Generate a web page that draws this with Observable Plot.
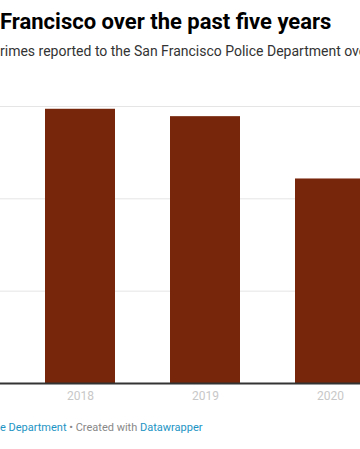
<!DOCTYPE html>
<html>
<head>
<meta charset="utf-8">
<script src="https://cdn.jsdelivr.net/npm/d3@7"></script>
<script src="https://cdn.jsdelivr.net/npm/@observablehq/plot@0.6"></script>
<style>
  html, body { margin: 0; padding: 0; background: #fff; overflow: hidden; }
  body { width: 360px; height: 449px; position: relative; font-family: Roboto, sans-serif; }
  .title { position: absolute; left: 0; top: 7px; font-size: 22px; font-weight: 700; color: #000; white-space: nowrap; line-height: 30px; }
  .subtitle { position: absolute; left: 0; top: 41px; font-size: 14px; color: #333; white-space: nowrap; line-height: 20px; }
  .footer { position: absolute; left: 0; top: 420px; font-size: 11px; color: #888; white-space: nowrap; line-height: 16px; }
  .footer a { color: #1d94c4; text-decoration: none; }
  #chart { position: absolute; left: 0; top: 90px; }
</style>
</head>
<body>
<div class="title">Francisco over the past five years</div>
<div class="subtitle">rimes reported to the San Francisco Police Department ove</div>
<div id="chart"></div>
<div class="footer"><a>e Department</a> • Created with <a>Datawrapper</a></div>
<script>
const years = ["2018", "2019", "2020"];
const counts = [59.4, 57.8, 44.3];
const yTicks = [0, 20, 40, 60];

const data = years.map((y, i) => ({year: y, count: counts[i]}));

const chart = Plot.plot({
  width: 360,
  height: 320,
  marginTop: 16,
  marginBottom: 27,
  marginLeft: 0,
  marginRight: 0,
  style: {fontFamily: "Roboto, sans-serif", fontSize: "12px", background: "#fff"},
  x: {type: "band", domain: years, range: [45, 365], paddingInner: 0.44, paddingOuter: 0, label: null, axis: null},
  y: {domain: [0, 60], label: null, axis: null},
  marks: [
    Plot.ruleY(yTicks.slice(1), {stroke: "#e5e5e5", strokeWidth: 1}),
    Plot.barY(data, {x: "year", y: "count", fill: "#77260b"}),
    Plot.ruleY([0], {stroke: "#333", strokeWidth: 2}),
    Plot.axisX({tickSize: 0, tickPadding: 8, fill: "#c8c8c8", fontSize: 12}),
  ]
});
document.getElementById("chart").appendChild(chart);
</script>
</body>
</html>
